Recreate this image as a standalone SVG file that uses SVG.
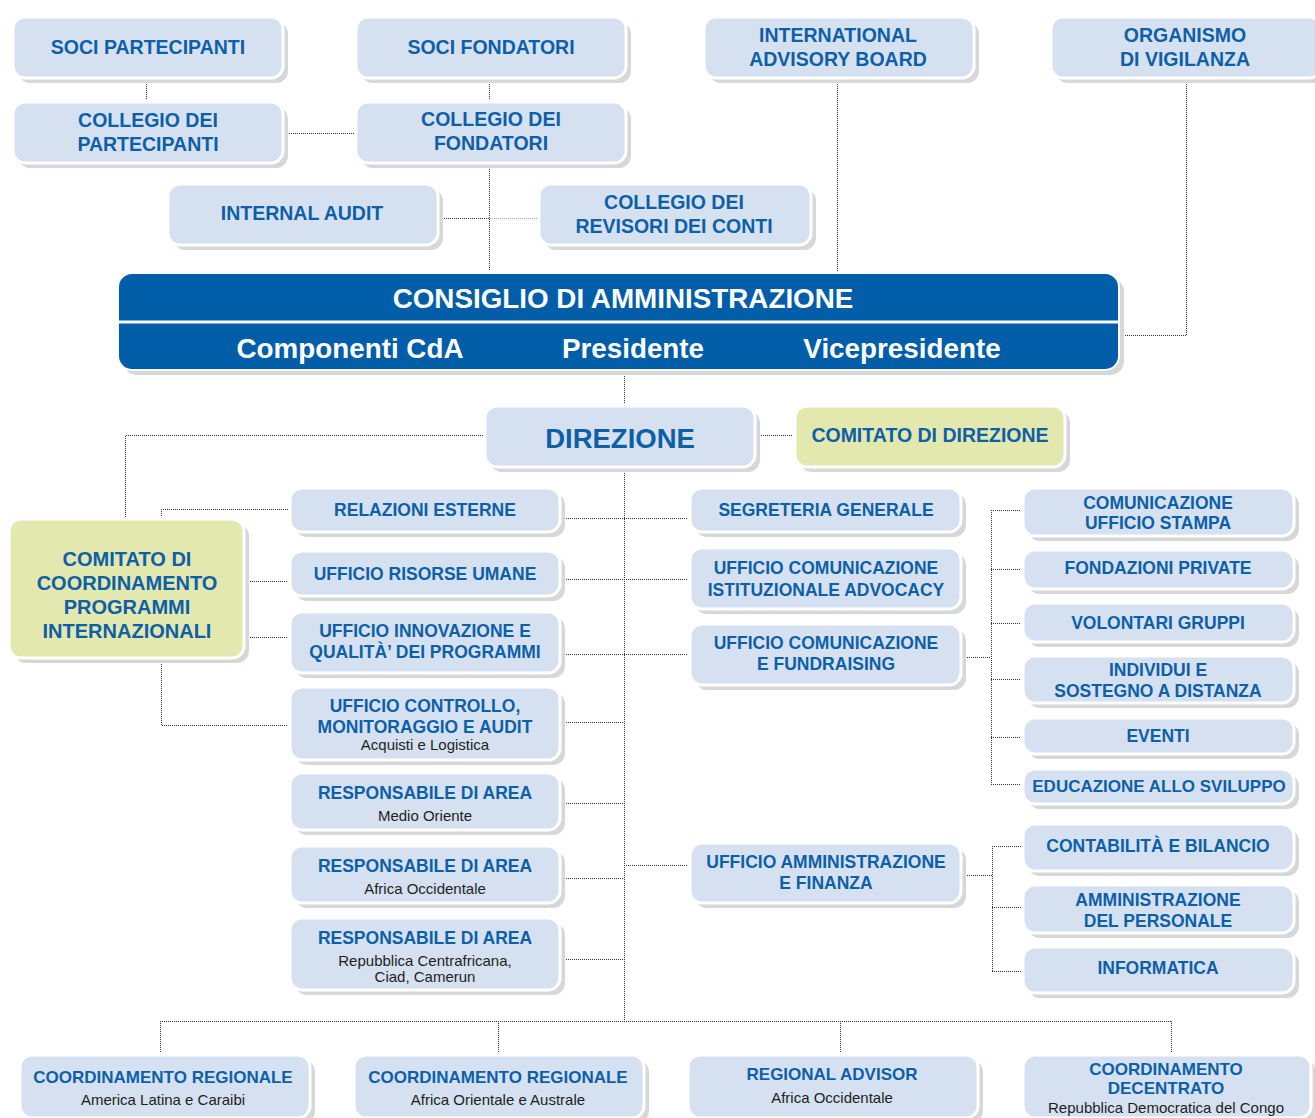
<svg xmlns="http://www.w3.org/2000/svg" width="1315" height="1118" viewBox="0 0 1315 1118">
<style>
.sh{fill:#d6d7d9}
.n{fill:#d5e1f0;stroke:#ffffff;stroke-width:3}
.g{fill:#e2e8ae;stroke:#ffffff;stroke-width:3}
.cda{fill:#005da8;stroke:#ffffff;stroke-width:2}
text{font-family:"Liberation Sans",Arial,sans-serif;text-anchor:middle;dominant-baseline:central}
.t{fill:#0d5fa7;font-weight:bold;font-size:17.5px}
.tl{fill:#0d5fa7;font-weight:bold;font-size:19.5px}
.tg{fill:#0d5fa7;font-weight:bold;font-size:20px}
.tb{fill:#0d5fa7;font-weight:bold;font-size:17px}
.s{fill:#1e1e1e;font-size:15px}
.w{fill:#ffffff;font-weight:bold;font-size:27.8px}
.c{fill:none;stroke:#333333;stroke-width:1;stroke-dasharray:1 1}
.cl{fill:none;stroke:#a8a8a8;stroke-width:1;stroke-dasharray:1 1}
</style>
<g id="connectors">
<path class="c" d="M146.5,80 V100"/>
<path class="c" d="M285,133.5 H354"/>
<path class="c" d="M489.5,80 V100"/>
<path class="c" d="M489.5,165 V271"/>
<path class="c" d="M440,218.5 H489"/>
<path class="cl" d="M490,218.5 H537"/>
<path class="c" d="M837.5,80 V271"/>
<path class="c" d="M1186.5,80 V335.5 H1121"/>
<path class="c" d="M624.5,372 V404"/>
<path class="c" d="M757,435.5 H793"/>
<path class="c" d="M483,435.5 H125.5 V517"/>
<path class="c" d="M288,509.5 H161.5 V517"/>
<path class="c" d="M161.5,660 V725.5 H288"/>
<path class="c" d="M246,581.5 H288"/>
<path class="c" d="M246,637.5 H288"/>
<path class="c" d="M624.5,469 V1021"/>
<path class="c" d="M562,518.5 H688"/>
<path class="c" d="M562,579.5 H688"/>
<path class="c" d="M562,654.5 H688"/>
<path class="c" d="M562,722.5 H624"/>
<path class="c" d="M562,803.5 H624"/>
<path class="c" d="M562,878.5 H624"/>
<path class="c" d="M562,959.5 H624"/>
<path class="c" d="M624,865.5 H688"/>
<path class="c" d="M963,657.5 H991"/>
<path class="c" d="M991.5,510 V784"/>
<path class="c" d="M991,510.5 H1021"/>
<path class="c" d="M991,569.5 H1021"/>
<path class="c" d="M991,623.5 H1021"/>
<path class="c" d="M991,679.5 H1021"/>
<path class="c" d="M991,737.5 H1021"/>
<path class="c" d="M991,784.5 H1021"/>
<path class="c" d="M963,875.5 H992"/>
<path class="c" d="M992.5,846 V971"/>
<path class="c" d="M992,846.5 H1021"/>
<path class="c" d="M992,907.5 H1021"/>
<path class="c" d="M992,971.5 H1021"/>
<path class="c" d="M160,1021.5 H1172"/>
<path class="c" d="M160.5,1021 V1053"/>
<path class="c" d="M498.5,1021 V1053"/>
<path class="c" d="M840.5,1021 V1053"/>
<path class="c" d="M1171.5,1021 V1053"/>
</g>
<g id="soci-partecipanti"><rect class="sh" x="18" y="22" width="270" height="61" rx="12"/><rect class="n" x="13" y="17" width="270" height="61" rx="12"/><text class="tl" x="148" y="47">SOCI PARTECIPANTI</text></g>
<g id="soci-fondatori"><rect class="sh" x="361" y="22" width="270" height="61" rx="12"/><rect class="n" x="356" y="17" width="270" height="61" rx="12"/><text class="tl" x="491" y="47">SOCI FONDATORI</text></g>
<g id="international-advisory-board"><rect class="sh" x="709" y="22" width="270" height="61" rx="12"/><rect class="n" x="704" y="17" width="270" height="61" rx="12"/><text class="tl" x="838" y="35">INTERNATIONAL</text><text class="tl" x="838" y="59">ADVISORY BOARD</text></g>
<g id="organismo-di-vigilanza"><rect class="sh" x="1056" y="22" width="270" height="61" rx="12"/><rect class="n" x="1051" y="17" width="270" height="61" rx="12"/><text class="tl" x="1185" y="35">ORGANISMO</text><text class="tl" x="1185" y="59">DI VIGILANZA</text></g>
<g id="collegio-partecipanti"><rect class="sh" x="18" y="107" width="270" height="61" rx="12"/><rect class="n" x="13" y="102" width="270" height="61" rx="12"/><text class="tl" x="148" y="120">COLLEGIO DEI</text><text class="tl" x="148" y="144">PARTECIPANTI</text></g>
<g id="collegio-fondatori"><rect class="sh" x="361" y="107" width="270" height="61" rx="12"/><rect class="n" x="356" y="102" width="270" height="61" rx="12"/><text class="tl" x="491" y="119">COLLEGIO DEI</text><text class="tl" x="491" y="143">FONDATORI</text></g>
<g id="internal-audit"><rect class="sh" x="173" y="189" width="270" height="61" rx="12"/><rect class="n" x="168" y="184" width="270" height="61" rx="12"/><text class="tl" x="302" y="213">INTERNAL AUDIT</text></g>
<g id="collegio-revisori"><rect class="sh" x="544" y="189" width="272" height="61" rx="12"/><rect class="n" x="539" y="184" width="272" height="61" rx="12"/><text class="tl" x="674" y="202">COLLEGIO DEI</text><text class="tl" x="674" y="226">REVISORI DEI CONTI</text></g>
<g id="consiglio-di-amministrazione"><rect class="sh" x="123" y="278" width="1001" height="97" rx="14"/><rect class="cda" x="118" y="273" width="1001" height="97" rx="14"/><line x1="118" y1="322" x2="1119" y2="322" stroke="#ffffff" stroke-width="3"/><text class="w" x="623" y="298">CONSIGLIO DI AMMINISTRAZIONE</text><text class="w" x="350" y="348">Componenti CdA</text><text class="w" x="633" y="348">Presidente</text><text class="w" x="902" y="348">Vicepresidente</text></g>
<g id="direzione"><rect class="sh" x="490" y="411" width="270" height="61" rx="12"/><rect class="n" x="485" y="406" width="270" height="61" rx="12"/><text class="tl" x="620" y="438" style="font-size:27.5px">DIREZIONE</text></g>
<g id="comitato-di-direzione"><rect class="sh" x="800" y="411" width="270" height="61" rx="12"/><rect class="g" x="795" y="406" width="270" height="61" rx="12"/><text class="tl" x="930" y="435">COMITATO DI DIREZIONE</text></g>
<g id="comitato-coordinamento"><rect class="sh" x="14" y="524" width="235" height="139" rx="12"/><rect class="g" x="9" y="519" width="235" height="139" rx="12"/><text class="tg" x="127" y="559">COMITATO DI</text><text class="tg" x="127" y="583">COORDINAMENTO</text><text class="tg" x="127" y="607">PROGRAMMI</text><text class="tg" x="127" y="631">INTERNAZIONALI</text></g>
<g id="relazioni-esterne"><rect class="sh" x="295" y="493" width="270" height="44" rx="12"/><rect class="n" x="290" y="488" width="270" height="44" rx="12"/><text class="t" x="425" y="510">RELAZIONI ESTERNE</text></g>
<g id="risorse-umane"><rect class="sh" x="295" y="556" width="270" height="45" rx="12"/><rect class="n" x="290" y="551" width="270" height="45" rx="12"/><text class="t" x="425" y="574">UFFICIO RISORSE UMANE</text></g>
<g id="innovazione-qualita"><rect class="sh" x="295" y="617" width="270" height="61" rx="12"/><rect class="n" x="290" y="612" width="270" height="61" rx="12"/><text class="t" x="425" y="631">UFFICIO INNOVAZIONE E</text><text class="t" x="425" y="652">QUALITÀ’ DEI PROGRAMMI</text></g>
<g id="controllo-monitoraggio"><rect class="sh" x="295" y="692" width="270" height="73" rx="12"/><rect class="n" x="290" y="687" width="270" height="73" rx="12"/><text class="t" x="425" y="706">UFFICIO CONTROLLO,</text><text class="t" x="425" y="727">MONITORAGGIO E AUDIT</text><text class="s" x="425" y="744">Acquisti e Logistica</text></g>
<g id="resp-medio-oriente"><rect class="sh" x="295" y="778" width="270" height="57" rx="12"/><rect class="n" x="290" y="773" width="270" height="57" rx="12"/><text class="t" x="425" y="793">RESPONSABILE DI AREA</text><text class="s" x="425" y="815">Medio Oriente</text></g>
<g id="resp-africa-occidentale"><rect class="sh" x="295" y="851" width="270" height="57" rx="12"/><rect class="n" x="290" y="846" width="270" height="57" rx="12"/><text class="t" x="425" y="866">RESPONSABILE DI AREA</text><text class="s" x="425" y="888">Africa Occidentale</text></g>
<g id="resp-centrafricana"><rect class="sh" x="295" y="923" width="270" height="72" rx="12"/><rect class="n" x="290" y="918" width="270" height="72" rx="12"/><text class="t" x="425" y="938">RESPONSABILE DI AREA</text><text class="s" x="425" y="960">Repubblica Centrafricana,</text><text class="s" x="425" y="976">Ciad, Camerun</text></g>
<g id="segreteria-generale"><rect class="sh" x="695" y="493" width="271" height="44" rx="12"/><rect class="n" x="690" y="488" width="271" height="44" rx="12"/><text class="t" x="826" y="510">SEGRETERIA GENERALE</text></g>
<g id="comunicazione-advocacy"><rect class="sh" x="695" y="553" width="271" height="61" rx="12"/><rect class="n" x="690" y="548" width="271" height="61" rx="12"/><text class="t" x="826" y="568">UFFICIO COMUNICAZIONE</text><text class="t" x="826" y="590">ISTITUZIONALE ADVOCACY</text></g>
<g id="comunicazione-fundraising"><rect class="sh" x="695" y="629" width="271" height="61" rx="12"/><rect class="n" x="690" y="624" width="271" height="61" rx="12"/><text class="t" x="826" y="643">UFFICIO COMUNICAZIONE</text><text class="t" x="826" y="664">E FUNDRAISING</text></g>
<g id="amministrazione-finanza"><rect class="sh" x="695" y="848" width="271" height="60" rx="12"/><rect class="n" x="690" y="843" width="271" height="60" rx="12"/><text class="t" x="826" y="862">UFFICIO AMMINISTRAZIONE</text><text class="t" x="826" y="883">E FINANZA</text></g>
<g id="ufficio-stampa"><rect class="sh" x="1028" y="493" width="271" height="48" rx="12"/><rect class="n" x="1023" y="488" width="271" height="48" rx="12"/><text class="t" x="1158" y="503">COMUNICAZIONE</text><text class="t" x="1158" y="523">UFFICIO STAMPA</text></g>
<g id="fondazioni-private"><rect class="sh" x="1028" y="555" width="271" height="39" rx="12"/><rect class="n" x="1023" y="550" width="271" height="39" rx="12"/><text class="t" x="1158" y="568">FONDAZIONI PRIVATE</text></g>
<g id="volontari-gruppi"><rect class="sh" x="1028" y="608" width="271" height="39" rx="12"/><rect class="n" x="1023" y="603" width="271" height="39" rx="12"/><text class="t" x="1158" y="623">VOLONTARI GRUPPI</text></g>
<g id="individui-sostegno"><rect class="sh" x="1028" y="661" width="271" height="47" rx="12"/><rect class="n" x="1023" y="656" width="271" height="47" rx="12"/><text class="t" x="1158" y="670">INDIVIDUI E</text><text class="t" x="1158" y="691">SOSTEGNO A DISTANZA</text></g>
<g id="eventi"><rect class="sh" x="1028" y="723" width="271" height="36" rx="12"/><rect class="n" x="1023" y="718" width="271" height="36" rx="12"/><text class="t" x="1158" y="736">EVENTI</text></g>
<g id="educazione-sviluppo"><rect class="sh" x="1028" y="774" width="271" height="35" rx="12"/><rect class="n" x="1023" y="769" width="271" height="35" rx="12"/><text class="t" x="1159" y="786" style="font-size:17px">EDUCAZIONE ALLO SVILUPPO</text></g>
<g id="contabilita-bilancio"><rect class="sh" x="1028" y="829" width="271" height="47" rx="12"/><rect class="n" x="1023" y="824" width="271" height="47" rx="12"/><text class="t" x="1158" y="846">CONTABILITÀ E BILANCIO</text></g>
<g id="amministrazione-personale"><rect class="sh" x="1028" y="890" width="271" height="48" rx="12"/><rect class="n" x="1023" y="885" width="271" height="48" rx="12"/><text class="t" x="1158" y="900">AMMINISTRAZIONE</text><text class="t" x="1158" y="921">DEL PERSONALE</text></g>
<g id="informatica"><rect class="sh" x="1028" y="952" width="271" height="46" rx="12"/><rect class="n" x="1023" y="947" width="271" height="46" rx="12"/><text class="t" x="1158" y="968">INFORMATICA</text></g>
<g id="coord-america-latina"><rect class="sh" x="25" y="1060" width="290" height="63" rx="12"/><rect class="n" x="20" y="1055" width="290" height="63" rx="12"/><text class="tb" x="163" y="1077">COORDINAMENTO REGIONALE</text><text class="s" x="163" y="1099">America Latina e Caraibi</text></g>
<g id="coord-africa-orientale"><rect class="sh" x="359" y="1060" width="290" height="63" rx="12"/><rect class="n" x="354" y="1055" width="290" height="63" rx="12"/><text class="tb" x="498" y="1077">COORDINAMENTO REGIONALE</text><text class="s" x="498" y="1099">Africa Orientale e Australe</text></g>
<g id="regional-advisor"><rect class="sh" x="693" y="1060" width="290" height="63" rx="12"/><rect class="n" x="688" y="1055" width="290" height="63" rx="12"/><text class="tb" x="832" y="1074">REGIONAL ADVISOR</text><text class="s" x="832" y="1097">Africa Occidentale</text></g>
<g id="coord-decentrato"><rect class="sh" x="1028" y="1060" width="288" height="63" rx="12"/><rect class="n" x="1023" y="1055" width="288" height="63" rx="12"/><text class="tb" x="1166" y="1069">COORDINAMENTO</text><text class="tb" x="1166" y="1088">DECENTRATO</text><text class="s" x="1166" y="1107">Repubblica Democratica del Congo</text></g>
</svg>
